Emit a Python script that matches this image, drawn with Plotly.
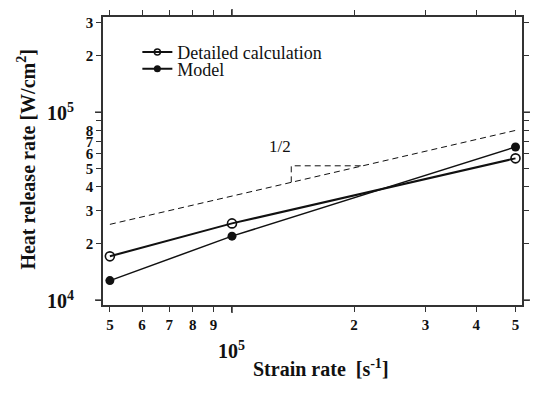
import math
import plotly.graph_objects as go

# Strain rate [1/s]
strain_rate = [5e4, 1e5, 5e5]
# Heat release rate [W/cm^2]
detailed = [1.71e4, 2.56e4, 5.68e4]
model = [1.27e4, 2.19e4, 6.53e4]

# Reference line of slope 1/2 (log-log)
guide_x = [5e4, 5e5]
guide_y = [2.53e4, 8.0e4]
slope_text = "1/2"

x_tickvals = [5e4, 6e4, 7e4, 8e4, 9e4, 1e5, 2e5, 3e5, 4e5, 5e5]
x_ticktext = ["5", "6", "7", "8", "9", "", "2", "3", "4", "5"]
y_tickvals = [1e4, 2e4, 3e4, 4e4, 5e4, 6e4, 7e4, 8e4, 9e4, 1e5, 2e5, 3e5]
y_ticktext = ["", "2", "3", "4", "5", "6", "7", "8", "", "", "2", "3"]
x_decades = [1e5]
y_decades = [1e4, 1e5]

SERIF = "Liberation Serif"
INK = "#111111"


def guide(x):
    k = math.log10(guide_y[1] / guide_y[0]) / math.log10(guide_x[1] / guide_x[0])
    return guide_y[0] * (x / guide_x[0]) ** k


# slope triangle sitting on the guide line
tri_x0, tri_x1 = 1.4e5, 2.1e5
tri_x = [tri_x0, tri_x0, tri_x1]
tri_y = [guide(tri_x0), guide(tri_x1), guide(tri_x1)]

fig = go.Figure()

fig.add_trace(go.Scatter(
    x=guide_x, y=guide_y, mode="lines",
    line=dict(color=INK, width=1, dash="6px,4px"), showlegend=False))
fig.add_trace(go.Scatter(
    x=tri_x, y=tri_y, mode="lines",
    line=dict(color=INK, width=1, dash="6px,4px"), showlegend=False))

fig.add_trace(go.Scatter(
    x=strain_rate, y=detailed, mode="lines+markers", name="Detailed calculation",
    line=dict(color=INK, width=2),
    marker=dict(symbol="circle-open", size=9, color=INK, line=dict(width=1.6, color=INK)),
    showlegend=False))
fig.add_trace(go.Scatter(
    x=strain_rate, y=model, mode="lines+markers", name="Model",
    line=dict(color=INK, width=1.5),
    marker=dict(symbol="circle", size=9, color=INK),
    showlegend=False))

# legend keys use a smaller marker than the plotted points
fig.add_trace(go.Scatter(
    x=[None], y=[None], mode="lines+markers", name="Detailed calculation",
    line=dict(color=INK, width=2),
    marker=dict(symbol="circle-open", size=6, color=INK, line=dict(width=1.5, color=INK)),
    legend="legend"))
fig.add_trace(go.Scatter(
    x=[None], y=[None], mode="lines+markers", name="Model",
    line=dict(color=INK, width=2),
    marker=dict(symbol="circle", size=7, color=INK),
    legend="legend2"))

tick_font = dict(family=SERIF, size=15, color=INK, weight="bold")
axis_common = dict(
    type="log", showgrid=False, zeroline=False, showline=True, linecolor="#333333",
    linewidth=1.5, mirror="allticks", ticks="outside", ticklen=5, tickwidth=1,
    tickcolor="#333333", tickmode="array", tickfont=tick_font,
)

fig.update_xaxes(range=[4.682, 5.715], tickvals=x_tickvals, ticktext=x_ticktext, **axis_common)
fig.update_yaxes(range=[3.974, 5.5066], tickvals=y_tickvals, ticktext=y_ticktext, **axis_common)

# longer ticks at the decades, on all four sides
shapes = []
for xv in x_decades:
    for anchor, y0, y1 in [(0, 0, -8), (1, 0, 8)]:
        shapes.append(dict(type="line", xref="x", yref="paper", ysizemode="pixel",
                           yanchor=anchor, x0=xv, x1=xv, y0=y0, y1=y1,
                           line=dict(color="#333333", width=1.5)))
for yv in y_decades:
    for anchor, x0, x1 in [(0, -8, 0), (1, 0, 8)]:
        shapes.append(dict(type="line", yref="y", xref="paper", xsizemode="pixel",
                           xanchor=anchor, y0=yv, y1=yv, x0=x0, x1=x1,
                           line=dict(color="#333333", width=1.5)))

big_font = dict(family=SERIF, size=20, color=INK, weight="bold")
annotations = [
    # decade labels
    dict(text="10<sup>5</sup>", x=5, xref="x", y=0, yref="paper", yshift=-45,
         xanchor="center", yanchor="middle", showarrow=False, font=big_font),
    dict(text="10<sup>5</sup>", x=0, xref="paper", y=5, yref="y", xshift=-27,
         xanchor="right", yanchor="middle", showarrow=False, font=big_font),
    dict(text="10<sup>4</sup>", x=0, xref="paper", y=4, yref="y", xshift=-27,
         xanchor="right", yanchor="middle", showarrow=False, font=big_font),
    # axis titles
    dict(text="Heat release rate [W/cm<sup>2</sup>]", x=0, xref="paper", y=0.505,
         yref="paper", xshift=-77, textangle=-90, xanchor="center", yanchor="middle",
         showarrow=False, font=dict(family=SERIF, size=20, color=INK, weight="bold")),
    dict(text="Strain rate \u00a0[s<sup>-1</sup>]", x=0.521, xref="paper", y=0,
         yref="paper", yshift=-63, xanchor="center", yanchor="middle",
         showarrow=False, font=dict(family=SERIF, size=20, color=INK, weight="bold")),
    # slope label
    dict(text=slope_text, x=math.log10(1.31e5), y=math.log10(6.6e4), xref="x", yref="y",
         showarrow=False, xanchor="center", yanchor="middle",
         font=dict(family=SERIF, size=17, color=INK)),
]

legend_style = dict(font=dict(family=SERIF, size=18, color=INK), bgcolor="rgba(0,0,0,0)",
                    borderwidth=0, itemwidth=30,
                    xanchor="left", yanchor="middle", tracegroupgap=0)

fig.update_layout(
    width=539, height=395,
    margin=dict(l=103, r=10, t=13, b=90),
    paper_bgcolor="white", plot_bgcolor="white",
    shapes=shapes, annotations=annotations,
    legend=dict(x=0.082, y=0.877, **legend_style),
    legend2=dict(x=0.082, y=0.819, **legend_style),
)

fig.write_html("out.html")
